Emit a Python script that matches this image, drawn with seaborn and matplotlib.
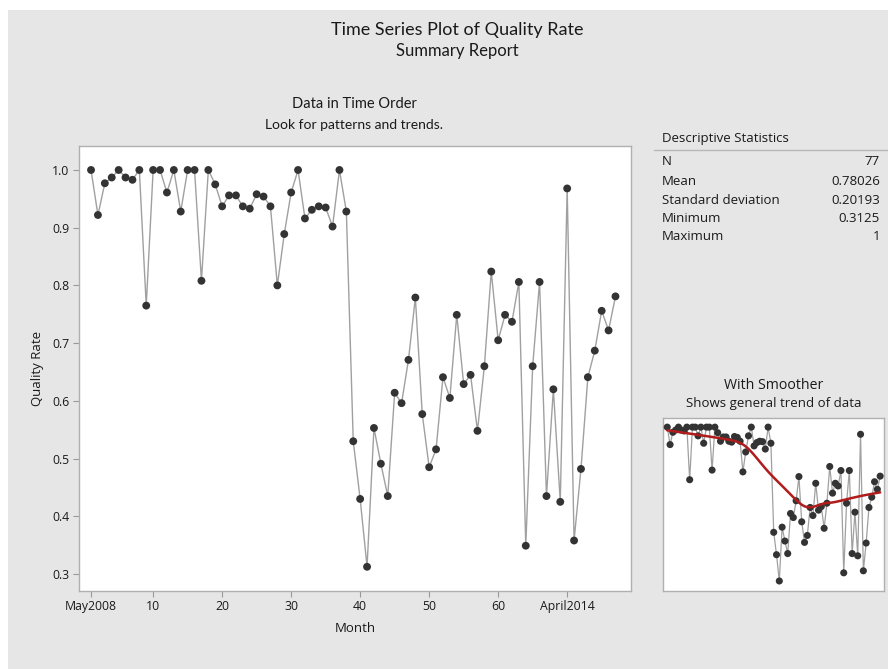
import matplotlib
matplotlib.use("Agg")
import matplotlib.pyplot as plt
import numpy as np
import pandas as pd
import seaborn as sns

# values, one per month
quality_rate = [
    1.000, 0.922, 0.977, 0.987, 1.000, 0.987, 0.983, 1.000, 0.765, 1.000,
    1.000, 0.961, 1.000, 0.928, 1.000, 1.000, 0.808, 1.000, 0.975, 0.937,
    0.956, 0.956, 0.937, 0.933, 0.958, 0.954, 0.937, 0.800, 0.889, 0.961,
    1.000, 0.916, 0.931, 0.937, 0.935, 0.902, 1.000, 0.928, 0.530, 0.430,
    0.3125, 0.553, 0.491, 0.435, 0.614, 0.596, 0.671, 0.779, 0.577, 0.485,
    0.516, 0.641, 0.605, 0.749, 0.629, 0.645, 0.548, 0.660, 0.824, 0.705,
    0.749, 0.737, 0.806, 0.349, 0.660, 0.806, 0.435, 0.620, 0.425, 0.968,
    0.358, 0.482, 0.641, 0.687, 0.756, 0.722, 0.781,
]
month = list(range(1, len(quality_rate) + 1))

x_ticks = [1, 10, 20, 30, 40, 50, 60, 70]
x_tick_labels = ["May2008", "10", "20", "30", "40", "50", "60", "April2014"]
y_ticks = [0.3, 0.4, 0.5, 0.6, 0.7, 0.8, 0.9, 1.0]

stat_names = ["N", "Mean", "Standard deviation", "Minimum", "Maximum"]
stat_values = ["77", "0.78026", "0.20193", "0.3125", "1"]

BG = "#e6e6e6"
TXT = "#1a1a1a"
TITLE_FONT = ["Lato", "DejaVu Sans"]
BODY_FONT = ["Open Sans", "DejaVu Sans"]


def lowess(x, y, frac=0.5, iters=2):
    # plain LOWESS, degree 1, tricube weights, bisquare robustness steps
    x = np.asarray(x, dtype=float)
    y = np.asarray(y, dtype=float)
    n = len(x)
    r = int(np.ceil(frac * n))
    fitted = np.zeros(n)
    robust = np.ones(n)
    for _ in range(iters + 1):
        for i in range(n):
            d = np.abs(x - x[i])
            h = np.sort(d)[r - 1]
            w = np.clip(d / h, 0, 1)
            w = (1 - w ** 3) ** 3 * robust
            sw = w.sum()
            xm = (w * x).sum() / sw
            ym = (w * y).sum() / sw
            sxx = (w * (x - xm) ** 2).sum()
            b = (w * (x - xm) * (y - ym)).sum() / sxx if sxx > 0 else 0.0
            fitted[i] = ym + b * (x[i] - xm)
        res = y - fitted
        s = np.median(np.abs(res))
        u = np.clip(res / (6 * s), -1, 1)
        robust = (1 - u ** 2) ** 2
    return fitted


df = pd.DataFrame({"Month": month, "Quality Rate": quality_rate})
df["Smooth"] = lowess(df["Month"], df["Quality Rate"])

sns.set_theme(style="white")
plt.rcParams["font.family"] = BODY_FONT

fig = plt.figure(figsize=(8.88, 6.69), dpi=100)
fig.patches.append(
    plt.Rectangle((8 / 888, 0), 1, 1 - 10 / 669, transform=fig.transFigure,
                  facecolor=BG, edgecolor="none", zorder=-10)
)

fig.text(0.5146, 0.955, "Time Series Plot of Quality Rate", ha="center", va="center",
         fontsize=13, family=TITLE_FONT, color=TXT)
fig.text(0.5146, 0.9238, "Summary Report", ha="center", va="center",
         fontsize=12, family=TITLE_FONT, color=TXT)

# main panel
ax = fig.add_axes([0.0893, 0.117, 0.6209, 0.6648])
ax.set_facecolor("white")
sns.lineplot(data=df, x="Month", y="Quality Rate", color="#a0a0a0", linewidth=1.0, ax=ax)
sns.scatterplot(data=df, x="Month", y="Quality Rate", color="#333333", s=32,
                edgecolor="none", zorder=3, ax=ax)
ax.set_xlim(-0.7, 79.2)
ax.set_ylim(0.271, 1.0416)
ax.set_xticks(x_ticks)
ax.set_xticklabels(x_tick_labels)
ax.set_yticks(y_ticks)
ax.set_yticklabels([f"{v:.1f}" for v in y_ticks])
ax.tick_params(axis="both", which="both", length=4, width=0.8, color="#999999",
               labelsize=8.8, labelcolor=TXT, pad=3, bottom=True, left=True)
for spine in ax.spines.values():
    spine.set_color("#b0b0b0")
    spine.set_linewidth(1.0)
ax.set_xlabel("Month", fontsize=9.5, color=TXT, labelpad=6)
ax.set_ylabel("Quality Rate", fontsize=9.5, color=TXT, labelpad=6)

fig.text(0.3986, 0.8445, "Data in Time Order", ha="center", va="center",
         fontsize=10.5, family=TITLE_FONT, color=TXT)
fig.text(0.3986, 0.813, "Look for patterns and trends.", ha="center", va="center",
         fontsize=10, family=TITLE_FONT, color=TXT)

# smoother panel
ax2 = fig.add_axes([0.747, 0.117, 0.2489, 0.2586])
ax2.set_facecolor("white")
sns.lineplot(data=df, x="Month", y="Quality Rate", color="#a0a0a0", linewidth=0.9, ax=ax2)
sns.scatterplot(data=df, x="Month", y="Quality Rate", color="#333333", s=26,
                edgecolor="none", zorder=3, ax=ax2)
sns.lineplot(data=df, x="Month", y="Smooth", color="#b01c1c", linewidth=1.8,
             zorder=4, ax=ax2)
ax2.set_xlim(-0.4, 78.5)
ax2.set_ylim(0.269, 1.042)
ax2.set_xticks([])
ax2.set_yticks([])
ax2.set_xlabel("")
ax2.set_ylabel("")
for spine in ax2.spines.values():
    spine.set_color("#b0b0b0")
    spine.set_linewidth(1.0)

fig.text(0.8716, 0.4245, "With Smoother", ha="center", va="center",
         fontsize=10.2, family=BODY_FONT, color=TXT)
fig.text(0.8716, 0.3976, "Shows general trend of data", ha="center", va="center",
         fontsize=9.5, family=BODY_FONT, color=TXT)

# descriptive statistics table
fig.text(0.7455, 0.7937, "Descriptive Statistics", ha="left", va="center",
         fontsize=9.5, color=TXT)
fig.add_artist(plt.Line2D([0.7365, 1.0], [0.7765, 0.7765], transform=fig.transFigure,
                          color="#b8b8b8", linewidth=1.0))
row_y = [0.758, 0.729, 0.701, 0.674, 0.647]
for name, value, y in zip(stat_names, stat_values, row_y):
    fig.text(0.7455, y, name, ha="left", va="center", fontsize=9.5, color=TXT)
    fig.text(0.991, y, value, ha="right", va="center", fontsize=9.5, color=TXT)

fig.savefig("out.png", dpi=100)
plt.close(fig)
